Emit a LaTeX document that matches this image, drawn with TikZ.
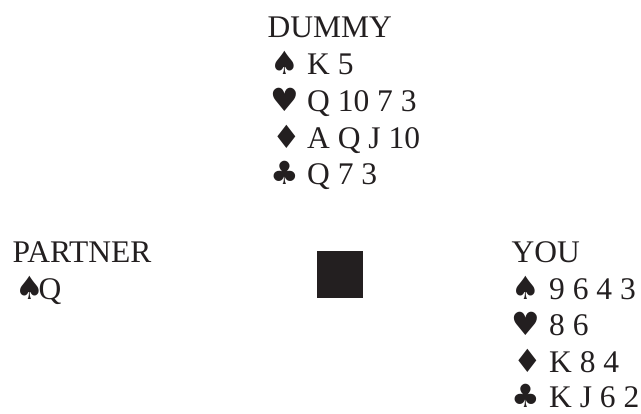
\documentclass[tikz,border=0pt]{standalone}
\usepackage{fontspec}
\setmainfont{Liberation Serif}
\newfontfamily\suitfont{DejaVu Sans}
\definecolor{ink}{HTML}{231F20}
\begin{document}
\begin{tikzpicture}[x=1pt,y=-1pt,
  txt/.style={anchor=base west, inner sep=0pt, text=ink, font=\fontsize{31.5}{38}\selectfont},
  suit/.style={anchor=base west, inner sep=0pt, text=ink, font=\suitfont\fontsize{32}{36}\selectfont}]
\useasboundingbox (0,0) rectangle (641,414);
% Dummy
\node[txt] (dn) at (267.5,37.5) {DUMMY};
\node[suit] (ds) at (270,74.5) {♠};
\node[txt] (dsc) at (307,74.5) {K 5};
\node[suit] (dh) at (270,111.3) {♥};
\node[txt] (dhc) at (307,111.3) {Q 10 7 3};
\node[suit] (dd) at (272,148.1) {♦};
\node[txt] (ddc) at (307,148.1) {A Q J 10};
\node[suit] (dc) at (270,185) {♣};
\node[txt] (dcc) at (307,185) {Q 7 3};
% Partner
\node[txt] (pn) at (12.5,263) {PARTNER};
\node[suit] (ps) at (15,299.5) {♠};
\node[txt] (psc) at (38.5,299.5) {Q};
% Table
\node[fill=ink, minimum width=45.5pt, minimum height=47.5pt, inner sep=0pt] (tbl) at (340,274.5) {};
% You
\node[txt] (yn) at (511.5,262.5) {YOU};
\node[suit] (ys) at (511,299.5) {♠};
\node[txt] (ysc) at (549,299.5) {9 6 4 3};
\node[suit] (yh) at (511,336) {♥};
\node[txt] (yhc) at (549,336) {8 6};
\node[suit] (yd) at (513,372.5) {♦};
\node[txt] (ydc) at (549,372.5) {K 8 4};
\node[suit] (yc) at (511,408) {♣};
\node[txt] (ycc) at (549,408) {K J 6 2};
\end{tikzpicture}
\end{document}
